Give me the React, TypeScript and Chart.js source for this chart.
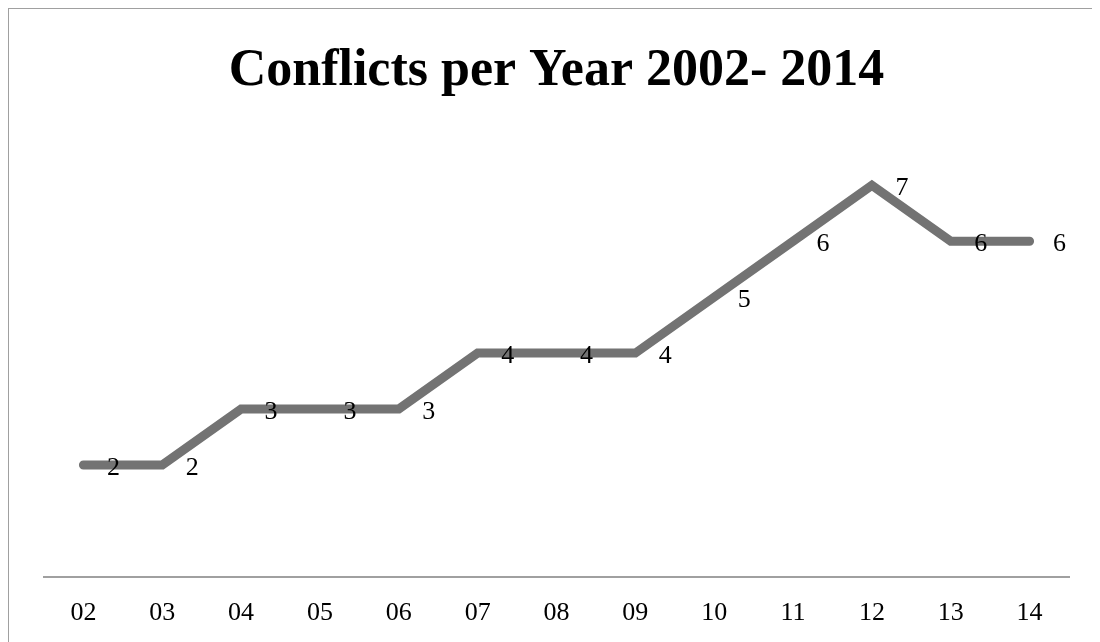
import React, { useEffect, useRef } from "react";
import { Chart, registerables } from "chart.js";

Chart.register(...registerables);

const years = ["02", "03", "04", "05", "06", "07", "08", "09", "10", "11", "12", "13", "14"];
const conflicts = [2, 2, 3, 3, 3, 4, 4, 4, 5, 6, 7, 6, 6];
const chartTitle = "Conflicts per Year 2002- 2014";

const valueLabels = {
  id: "valueLabels",
  afterDatasetsDraw(chart: any) {
    const ctx = chart.ctx;
    const meta = chart.getDatasetMeta(0);
    const data = chart.data.datasets[0].data;
    ctx.save();
    ctx.font = '26px "Liberation Serif"';
    ctx.fillStyle = "#000000";
    ctx.textAlign = "center";
    ctx.textBaseline = "middle";
    meta.data.forEach((pt: any, i: number) => {
      ctx.fillText(String(data[i]), pt.x + 30, pt.y + 3);
    });
    ctx.restore();
  },
};

export default function App() {
  const ref = useRef<HTMLCanvasElement>(null);
  useEffect(() => {
    document.body.style.overflow = "hidden";
    const chart = new Chart(ref.current as HTMLCanvasElement, {
      type: "line",
      data: {
        labels: years,
        datasets: [
          {
            data: conflicts,
            borderColor: "#737373",
            backgroundColor: "#737373",
            borderWidth: 9,
            pointRadius: 0,
            pointHoverRadius: 0,
            tension: 0,
            borderCapStyle: "round",
            borderJoinStyle: "miter",
            clip: false,
            fill: false,
          } as any,
        ],
      },
      options: {
        animation: false,
        responsive: true,
        maintainAspectRatio: false,
        layout: { padding: { left: 35, right: 39, top: 0, bottom: 18 } },
        plugins: {
          legend: { display: false },
          tooltip: { enabled: false },
          title: {
            display: true,
            text: chartTitle,
            color: "#000000",
            font: { family: '"Liberation Serif"', size: 52, weight: "bold", lineHeight: 1.2 },
            padding: { top: 31, bottom: 27 },
          },
        },
        scales: {
          x: {
            offset: true,
            grid: { display: false, drawTicks: false },
            border: { display: true, color: "#a0a0a0", width: 2 },
            ticks: {
              color: "#000000",
              padding: 21,
              font: { family: '"Liberation Serif"', size: 26, lineHeight: 1.2 },
            },
          },
          y: {
            display: false,
            min: 0,
            max: 8,
          },
        },
      },
      plugins: [valueLabels],
    });
    return () => chart.destroy();
  }, []);
  return (
    <div
      style={{
        position: "relative",
        width: 1100,
        height: 660,
        borderLeft: "1px solid #a0a0a0",
        borderTop: "1px solid #a0a0a0",
        boxSizing: "border-box",
        background: "#ffffff",
      }}
    >
      <canvas ref={ref} />
    </div>
  );
}
